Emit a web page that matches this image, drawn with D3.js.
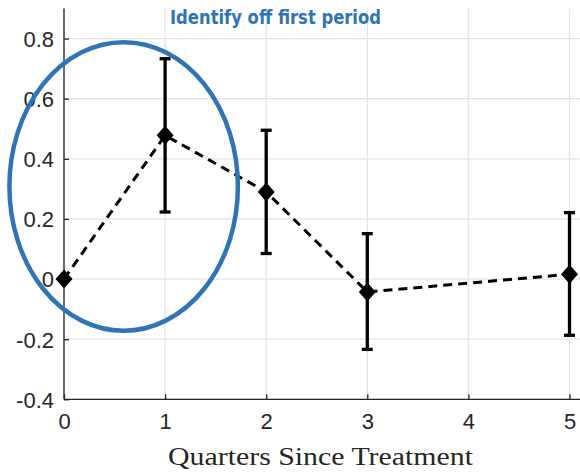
<!DOCTYPE html>
<html>
<head>
<meta charset="utf-8">
<script src="https://cdn.jsdelivr.net/npm/d3@7"></script>
<style>
  html, body { margin: 0; padding: 0; background: #fff; }
  svg { display: block; }
</style>
</head>
<body>
<svg id="chart" width="580" height="472"></svg>
<script>
// Event-study estimates by quarter since treatment
const quarters = [0, 1, 2, 3, 5];
const estimates = [0, 0.478, 0.290, -0.043, 0.016];
const ciLower = [0, 0.223, 0.085, -0.234, -0.187];
const ciUpper = [0, 0.733, 0.495, 0.151, 0.221];
const xTicks = [0, 1, 2, 3, 4, 5];
const yTicks = [-0.4, -0.2, 0, 0.2, 0.4, 0.6, 0.8];
const yTickLabels = ["-0.4", "-0.2", "0", "0.2", "0.4", "0.6", "0.8"];
// Highlight ellipse around the first-period estimate (data units)
const highlight = { cx: 0.59, cy: 0.308, rx: 1.13, ry: 0.48 };
const noteText = "Identify off first period";
const xLabel = "Quarters Since Treatment";

const svg = d3.select("#chart");
const plotLeft = 64, plotRight = 580, plotTop = 8.5, plotBottom = 399.3;

const x = d3.scaleLinear().domain([0, 5]).range([plotLeft, 569.5]);
const y = d3.scaleLinear().domain([-0.4, 0.9]).range([plotBottom, plotTop]);

// grid
const grid = svg.append("g");
grid.selectAll("line.gx").data(xTicks).join("line")
  .attr("x1", d => x(d)).attr("x2", d => x(d))
  .attr("y1", plotTop).attr("y2", plotBottom)
  .attr("stroke", "#e3e3e3").attr("stroke-width", 1.3);
grid.selectAll("line.gy").data(yTicks).join("line")
  .attr("x1", plotLeft).attr("x2", plotRight)
  .attr("y1", d => y(d)).attr("y2", d => y(d))
  .attr("stroke", "#e3e3e3").attr("stroke-width", 1.3);

// axes (ticks inward)
const xAxis = d3.axisBottom(x).tickValues(xTicks).tickSizeInner(-5).tickSizeOuter(0).tickPadding(14).tickFormat(d3.format("d"));
const yAxis = d3.axisLeft(y).tickValues(yTicks).tickSizeInner(-5).tickSizeOuter(0).tickPadding(10)
  .tickFormat((d, i) => yTickLabels[i]);

const gx = svg.append("g").attr("transform", `translate(0,${plotBottom})`).call(xAxis);
gx.select(".domain").attr("d", `M${plotLeft},0H${plotRight}`);
const gy = svg.append("g").attr("transform", `translate(${plotLeft},0)`).call(yAxis);
gy.select(".domain").attr("d", `M0,${plotBottom}V${plotTop}`);

[gx, gy].forEach(g => {
  g.select(".domain").attr("stroke", "#262626").attr("stroke-width", 1.3);
  g.selectAll(".tick line").attr("stroke", "#262626").attr("stroke-width", 1.3);
  g.selectAll(".tick text")
    .attr("fill", "#262626")
    .style("font-family", "'Liberation Sans', Arial, sans-serif")
    .style("font-size", "22px");
});
gy.selectAll(".tick text").attr("dy", "0.36em");
gx.selectAll(".tick text").attr("dy", "0.72em");

// dashed connecting line
const line = d3.line().x(d => x(d[0])).y(d => y(d[1]));
svg.append("path")
  .datum(quarters.map((q, i) => [q, estimates[i]]))
  .attr("d", line)
  .attr("fill", "none")
  .attr("stroke", "#000")
  .attr("stroke-width", 3)
  .attr("stroke-dasharray", "9,6");

// error bars
const bars = svg.append("g");
quarters.forEach((q, i) => {
  if (ciUpper[i] === ciLower[i]) return;
  const cx = x(q);
  bars.append("line").attr("x1", cx).attr("x2", cx)
    .attr("y1", y(ciLower[i])).attr("y2", y(ciUpper[i]))
    .attr("stroke", "#000").attr("stroke-width", 3.3);
  [ciLower[i], ciUpper[i]].forEach(v => {
    bars.append("line").attr("x1", cx - 5.5).attr("x2", cx + 5.5)
      .attr("y1", y(v)).attr("y2", y(v))
      .attr("stroke", "#000").attr("stroke-width", 3.3);
  });
});

// diamond markers
svg.append("g").selectAll("path").data(quarters).join("path")
  .attr("d", (q, i) => {
    const cx = x(q), cy = y(estimates[i]);
    return `M${cx},${cy - 9.5}L${cx + 8.5},${cy}L${cx},${cy + 9.5}L${cx - 8.5},${cy}Z`;
  })
  .attr("fill", "#000");

// highlight ellipse
svg.append("ellipse")
  .attr("cx", x(highlight.cx))
  .attr("cy", y(highlight.cy))
  .attr("rx", x(highlight.rx) - x(0))
  .attr("ry", y(0) - y(highlight.ry))
  .attr("fill", "none")
  .attr("stroke", "#3174b5")
  .attr("stroke-width", 4.5);

// annotation
svg.append("text")
  .attr("x", 170).attr("y", 24)
  .attr("fill", "#3174b5")
  .attr("textLength", 211).attr("lengthAdjust", "spacingAndGlyphs")
  .style("font-family", "'DejaVu Sans', sans-serif")
  .style("font-weight", "bold")
  .style("font-size", "19px")
  .text(noteText);

// x-axis title
svg.append("text")
  .attr("x", 320.5).attr("y", 465)
  .attr("text-anchor", "middle")
  .attr("fill", "#262626")
  .attr("textLength", 305).attr("lengthAdjust", "spacingAndGlyphs")
  .style("font-family", "'Liberation Serif', 'Times New Roman', serif")
  .style("font-size", "25.5px")
  .text(xLabel);
</script>
</body>
</html>
